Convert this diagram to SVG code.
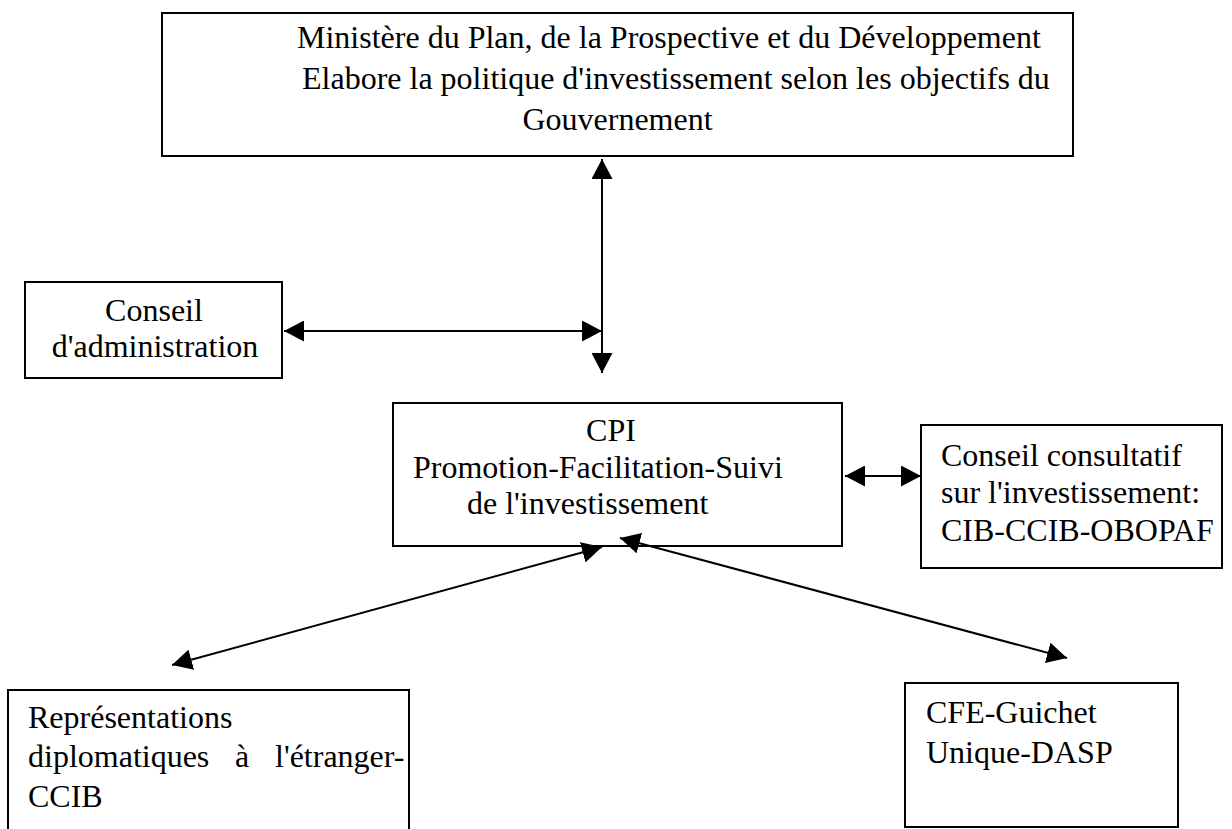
<svg xmlns="http://www.w3.org/2000/svg" width="1232" height="829" viewBox="0 0 1232 829">
<style>
.box{fill:#fff;stroke:#000;stroke-width:2}
.t{font-family:"Liberation Serif","Times New Roman",serif;font-size:32px;fill:#000}
.c{text-anchor:middle}
.conn{stroke:#000;stroke-width:2;fill:none;marker-start:url(#ah);marker-end:url(#ah)}
</style>
<defs>
<marker id="ah" markerUnits="userSpaceOnUse" markerWidth="20" markerHeight="21" refX="20" refY="10.5" orient="auto-start-reverse" viewBox="0 0 20 21">
<path d="M0,0 L20,10.5 L0,21 Z" fill="#000"/>
</marker>
</defs>
<rect width="1232" height="829" fill="#fff"/>
<g id="ministere">
<rect class="box" x="162" y="13" width="911" height="143"/>
<text class="t" x="297" y="48">Ministère du Plan, de la Prospective et du Développement</text>
<text class="t" x="302" y="89">Elabore la politique d'investissement selon les objectifs du</text>
<text class="t c" x="617.5" y="130">Gouvernement</text>
</g>
<g id="conseil-admin">
<rect class="box" x="25" y="282" width="257" height="96"/>
<text class="t c" x="154" y="321">Conseil</text>
<text class="t c" x="155" y="357">d'administration</text>
</g>
<g id="cpi">
<rect class="box" x="393" y="403" width="449" height="143"/>
<text class="t c" x="611" y="441">CPI</text>
<text class="t" x="413" y="478">Promotion-Facilitation-Suivi</text>
<text class="t" x="467" y="514">de l'investissement</text>
</g>
<g id="conseil-consultatif">
<rect class="box" x="921" y="425" width="301" height="143"/>
<text class="t" x="941" y="466">Conseil consultatif</text>
<text class="t" x="941" y="503">sur l'investissement:</text>
<text class="t" x="941" y="541">CIB-CCIB-OBOPAF</text>
</g>
<g id="representations">
<rect class="box" x="8" y="690" width="401" height="160"/>
<text class="t" x="28" y="728">Représentations</text>
<text class="t" y="767"><tspan x="28">diplomatiques</tspan><tspan x="235">à</tspan><tspan x="275">l'étranger-</tspan></text>
<text class="t" x="28" y="807">CCIB</text>
</g>
<g id="cfe">
<rect class="box" x="905" y="683" width="273" height="144"/>
<text class="t" x="926" y="723">CFE-Guichet</text>
<text class="t" x="926" y="763">Unique-DASP</text>
</g>
<g id="connectors">
<line class="conn" x1="602" y1="159" x2="602" y2="373"/>
<line class="conn" x1="284" y1="331" x2="602" y2="331"/>
<line class="conn" x1="845" y1="476" x2="921" y2="476"/>
<line class="conn" x1="602" y1="547" x2="172" y2="665"/>
<line class="conn" x1="620" y1="538" x2="1067" y2="658"/>
</g>
</svg>
